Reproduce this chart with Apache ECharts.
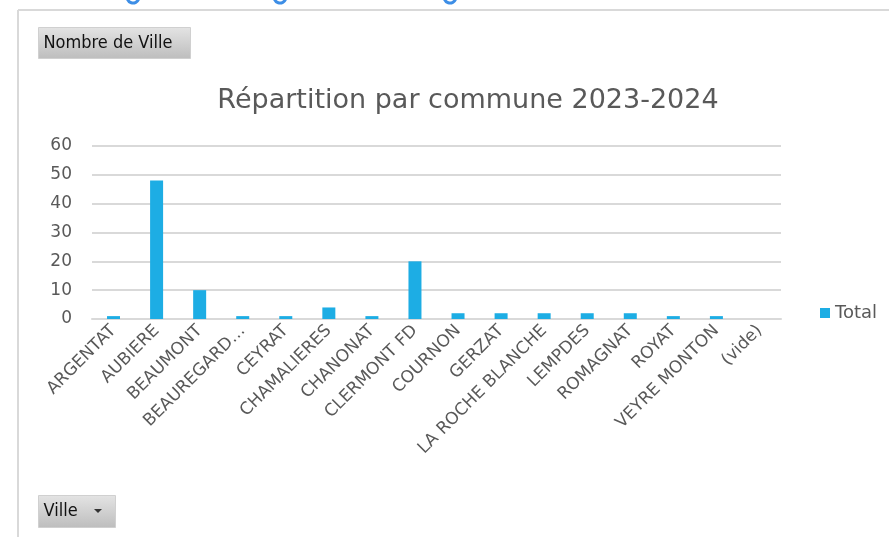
<!DOCTYPE html>
<html>
<head>
<meta charset="utf-8">
<script src="https://cdn.jsdelivr.net/npm/echarts@6/dist/echarts.min.js"></script>
<style>
  html, body { margin: 0; padding: 0; background: #fff; }
  #chart { width: 889px; height: 537px; }
</style>
</head>
<body>
<div id="chart"></div>
<script>
  // communes et nombre de villes
  var communes = ['ARGENTAT', 'AUBIERE', 'BEAUMONT', 'BEAUREGARD…', 'CEYRAT', 'CHAMALIERES',
    'CHANONAT', 'CLERMONT FD', 'COURNON', 'GERZAT', 'LA ROCHE BLANCHE', 'LEMPDES',
    'ROMAGNAT', 'ROYAT', 'VEYRE MONTON', '(vide)'];
  var totals = [1, 48, 10, 1, 1, 4, 1, 20, 2, 2, 2, 2, 2, 1, 1, 0];
  var yTicks = [0, 10, 20, 30, 40, 50, 60];

  var grey = '#595959';
  var font = '"DejaVu Sans", sans-serif';

  var myChart = echarts.init(document.getElementById('chart'));

  function button(x, y, w, h, label) {
    return {
      type: 'group',
      left: x, top: y,
      children: [
        {
          type: 'rect',
          shape: { x: 0, y: 0, width: w, height: h },
          style: {
            fill: new echarts.graphic.LinearGradient(0, 0, 0, 1, [
              { offset: 0, color: '#e4e4e4' },
              { offset: 1, color: '#bdbdbd' }
            ]),
            stroke: '#d0d0d0', lineWidth: 1
          }
        },
        {
          type: 'text',
          x: 5, y: h / 2,
          style: {
            text: label, fill: '#111', font: '18px "Liberation Sans Narrow", "DejaVu Sans Condensed", sans-serif',
            verticalAlign: 'middle'
          }
        }
      ]
    };
  }

  var option = {
    backgroundColor: '#fff',
    animation: false,
    title: {
      text: 'Répartition par commune 2023-2024',
      left: 463, top: 82,
      textAlign: 'center',
      textStyle: { color: grey, fontSize: 27, fontWeight: 'normal', fontFamily: font }
    },
    legend: {
      data: ['Total'],
      left: 815, top: 299,
      icon: 'rect', itemWidth: 10, itemHeight: 10, itemGap: 5,
      textStyle: { color: grey, fontSize: 18, fontFamily: font }
    },
    grid: { left: 92, right: 108, top: 146, bottom: 218 },
    xAxis: {
      type: 'category',
      data: communes,
      axisLine: { lineStyle: { color: '#d9d9d9', width: 2 } },
      axisTick: { show: false },
      axisLabel: {
        rotate: 45, interval: 0, margin: 9,
        color: grey, fontSize: 17, fontFamily: font
      }
    },
    yAxis: {
      type: 'value',
      min: 0, max: yTicks[yTicks.length - 1], interval: 10,
      axisLine: { show: false },
      axisTick: { show: false },
      splitLine: { lineStyle: { color: '#d9d9d9', width: 2 } },
      axisLabel: { color: grey, fontSize: 17, fontFamily: font, margin: 20 }
    },
    series: [{
      name: 'Total',
      type: 'bar',
      data: totals,
      barWidth: 13,
      itemStyle: { color: '#1dade4' }
    }],
    graphic: [
      // cadre du tableau croisé
      { type: 'line', shape: { x1: 18, y1: 10, x2: 889, y2: 10 }, style: { stroke: '#d9d9d9', lineWidth: 2 } },
      { type: 'line', shape: { x1: 18, y1: 10, x2: 18, y2: 537 }, style: { stroke: '#d9d9d9', lineWidth: 2 } },
      // bas des lettres bleues coupées en haut
      { type: 'arc', shape: { cx: 133, cy: -3, r: 6, startAngle: 0.3, endAngle: Math.PI - 0.3 }, style: { stroke: '#3d8ee6', lineWidth: 3, fill: null } },
      { type: 'arc', shape: { cx: 280, cy: -3, r: 6, startAngle: 0.3, endAngle: Math.PI - 0.3 }, style: { stroke: '#3d8ee6', lineWidth: 3, fill: null } },
      { type: 'arc', shape: { cx: 450, cy: -3, r: 6, startAngle: 0.3, endAngle: Math.PI - 0.3 }, style: { stroke: '#3d8ee6', lineWidth: 3, fill: null } },
      button(38, 27, 152, 31, 'Nombre de Ville'),
      button(38, 495, 77, 32, 'Ville'),
      {
        type: 'polygon', left: 94, top: 509,
        shape: { points: [[0, 0], [8, 0], [4, 4]] },
        style: { fill: '#333' }
      }
    ]
  };

  myChart.setOption(option);
</script>
</body>
</html>
